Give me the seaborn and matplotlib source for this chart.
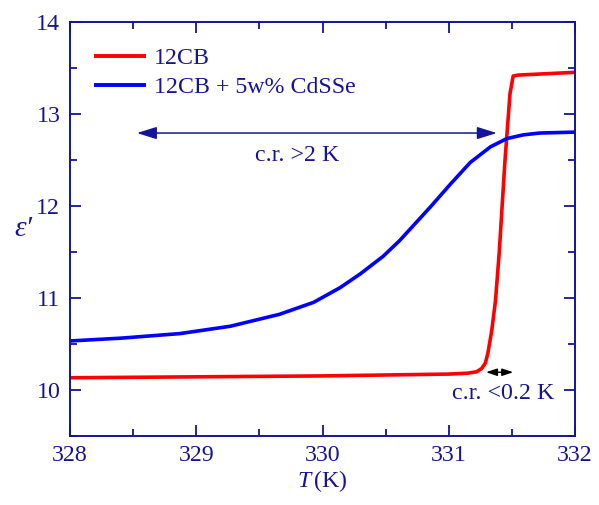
import matplotlib
matplotlib.use("Agg")
import matplotlib.pyplot as plt
import seaborn as sns
import pandas as pd
from matplotlib.ticker import MultipleLocator

# ---- data ----
t_red = [328.0, 329.0, 330.0, 331.0, 331.15, 331.22, 331.26, 331.29, 331.31, 331.34,
         331.37, 331.40, 331.445, 331.485, 331.51, 331.55, 331.7, 332.0]
eps_red = [10.13, 10.14, 10.15, 10.17, 10.18, 10.195, 10.23, 10.29, 10.40, 10.64,
           10.97, 11.5, 12.49, 13.22, 13.41, 13.42, 13.43, 13.45]

t_blue = [328.0, 328.4, 328.87, 329.27, 329.66, 329.93, 330.14, 330.30, 330.48,
          330.61, 330.85, 331.01, 331.17, 331.33, 331.46, 331.59, 331.72, 332.0]
eps_blue = [10.53, 10.56, 10.61, 10.69, 10.82, 10.95, 11.11, 11.26, 11.45,
            11.62, 11.98, 12.23, 12.47, 12.64, 12.73, 12.77, 12.79, 12.80]

series_names = ["12CB", "12CB + 5w% CdSSe"]
x_ticks = [328, 329, 330, 331, 332]
y_ticks = [10, 11, 12, 13, 14]

df = pd.concat([
    pd.DataFrame({"T": t_red, "eps": eps_red, "sample": series_names[0]}),
    pd.DataFrame({"T": t_blue, "eps": eps_blue, "sample": series_names[1]}),
])

sns.set_style("ticks")
plt.rcParams["font.family"] = ["Liberation Serif", "DejaVu Serif"]
plt.rcParams["mathtext.fontset"] = "custom"
plt.rcParams["mathtext.it"] = "Liberation Serif:italic"
plt.rcParams["mathtext.rm"] = "Liberation Serif"

navy = "#14149a"
fs = 17.2

fig = plt.figure(figsize=(5.99, 5.05), dpi=100)
ax = fig.add_axes([0.1169, 0.1372, 0.8431, 0.8198])

sns.lineplot(data=df, x="T", y="eps", hue="sample", palette=["#ff0000", "#0000ff"],
             ax=ax, linewidth=2.6, sort=True, estimator=None)
for ln in ax.get_lines():
    ln.set_solid_joinstyle("round")
    ln.set_solid_capstyle("butt")

ax.set_xlim(328, 332)
ax.set_ylim(9.5, 14)
ax.set_xticks(x_ticks)
ax.set_yticks(y_ticks)
ax.xaxis.set_minor_locator(MultipleLocator(0.5))
ax.yaxis.set_minor_locator(MultipleLocator(0.5))
ax.tick_params(which="both", direction="in", top=True, right=True, color=navy,
               labelcolor=navy, labelsize=fs, width=1.3)
ax.tick_params(which="major", length=8, pad=7)
ax.tick_params(which="minor", length=5)
for s in ax.spines.values():
    s.set_color(navy)
    s.set_linewidth(1.4)

ax.set_xlabel(r"$T\,$(K)", color=navy, fontsize=fs, labelpad=1)
ax.set_ylabel("ε′", color=navy, fontsize=fs + 4, rotation=0,
              fontstyle="italic", va="center", ha="center")
ax.yaxis.set_label_coords(-0.093, 0.5)

leg = ax.legend(loc="upper left", frameon=False, fontsize=fs, handlelength=2.2,
                handletextpad=0.3, labelspacing=0.3, borderaxespad=0.6,
                bbox_to_anchor=(0.0, 0.995))
for txt in leg.get_texts():
    txt.set_color(navy)
for ln in leg.get_lines():
    ln.set_linewidth(2.8)

# annotations
ax.annotate("", xy=(328.53, 12.79), xytext=(331.38, 12.79),
            arrowprops=dict(arrowstyle="<|-|>,head_length=0.8,head_width=0.25",
                            color=navy, lw=1.1, shrinkA=0, shrinkB=0,
                            mutation_scale=15))
ax.text(329.8, 12.55, "c.r. >2 K", color=navy, fontsize=fs, ha="center", va="center")

ax.annotate("", xy=(331.295, 10.19), xytext=(331.51, 10.19),
            arrowprops=dict(arrowstyle="<|-|>,head_length=0.6,head_width=0.2",
                            color="black", lw=1.0, shrinkA=0, shrinkB=0,
                            mutation_scale=11))
ax.text(331.43, 9.96, "c.r. <0.2 K", color=navy, fontsize=fs, ha="center", va="center")

fig.savefig("out.png", dpi=100)
